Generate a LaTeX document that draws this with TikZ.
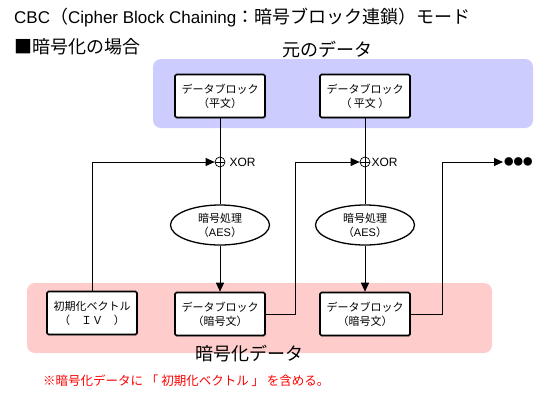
\documentclass[tikz,border=0pt]{standalone}
\usepackage{fontspec}
\setmainfont{Noto Sans CJK JP}
\newfontfamily\latn{Liberation Sans}
\usetikzlibrary{shapes.geometric,shadows,arrows.meta}
\definecolor{origblue}{RGB}{204,204,255}
\definecolor{encpink}{RGB}{255,204,204}
\begin{document}
\begin{tikzpicture}[x=1pt, y=-1pt]
  \tikzstyle{blk} = [draw, line width=1.6pt, rounded corners=1.5pt, fill=white, minimum width=90pt, minimum height=43pt, align=center, inner sep=1pt, font=\fontsize{11}{14}\selectfont, drop shadow={shadow xshift=1.2pt, shadow yshift=-1.2pt, opacity=0.35}]
  \tikzstyle{proc} = [draw, ellipse, line width=1.3pt, fill=white, minimum width=99pt, minimum height=40pt, align=center, inner sep=0pt, font=\fontsize{11}{14}\selectfont]
  \tikzstyle{xorsym} = [circle, draw, line width=0.7pt, minimum size=10pt, inner sep=0pt, path picture={\draw[line width=0.7pt] (path picture bounding box.north) -- (path picture bounding box.south) (path picture bounding box.west) -- (path picture bounding box.east);}]
  \tikzstyle{xorlbl} = [inner sep=1pt, font=\latn\fontsize{12}{12}\selectfont]
  \tikzstyle{conn} = [line width=0.9pt, >={Triangle[length=9pt,width=8pt]}]
  \tikzstyle{big} = [font=\fontsize{18}{20}\selectfont]
  \useasboundingbox (0,0) rectangle (560,400);
  % background areas
  \fill[origblue, rounded corners=8pt] (153,59) rectangle (533,128);
  \fill[encpink, rounded corners=8pt] (27,283) rectangle (492,353);
  % headings
  \node[big, anchor=west, inner sep=0pt] (title) at (14,18) {{\latn\fontsize{17}{20}\selectfont CBC}（{\latn\fontsize{17}{20}\selectfont Cipher Block Chaining}：暗号ブロック連鎖）モード};
  \node[big, anchor=west, inner sep=0pt] (case) at (14,47) {■暗号化の場合};
  \node[big] (origlbl) at (327,50) {元のデータ};
  \node[big] (enclbl) at (249,354) {暗号化データ};
  \node[anchor=west, inner sep=0pt, text=red, font=\fontsize{12.5}{14}\selectfont] (note) at (43,381) {※暗号化データに 「 初期化ベクトル 」 を含める。};
  % blocks
  \node[blk] (p1) at (220,96) {データブロック\\（平文）};
  \node[blk] (p2) at (365,96) {データブロック\\（ 平文 ）};
  \node[xorsym, label={[xorlbl, label distance=3pt]right:XOR}] (x1) at (220,162) {};
  \node[xorsym, label={[xorlbl, label distance=0pt]right:XOR}] (x2) at (365,162) {};
  \node[proc] (e1) at (220,225) {暗号処理\\（{\latn AES}）};
  \node[proc] (e2) at (365,225) {暗号処理\\（{\latn AES}）};
  \node[blk] (iv) at (92,313) {初期化ベクトル\\（　ＩＶ　）};
  \node[blk] (c1) at (220,314) {データブロック\\（暗号文）};
  \node[blk] (c2) at (365,314) {データブロック\\（暗号文）};
  \node[anchor=west, inner sep=1pt, font=\fontsize{9.5}{10}\selectfont] (more) at (503,162) {●●●};
  % connectors
  \draw[conn] (p1) -- (e1);
  \draw[conn] (p2) -- (e2);
  \draw[conn, ->] (e1) -- (c1);
  \draw[conn, ->] (e2) -- (c2);
  \draw[conn, ->] (iv) |- (x1);
  \draw[conn, ->] (c1.east) -- ++(30,0) |- (x2);
  \draw[conn, ->] (c2.east) -- ++(32,0) |- (more);
\end{tikzpicture}
\end{document}
